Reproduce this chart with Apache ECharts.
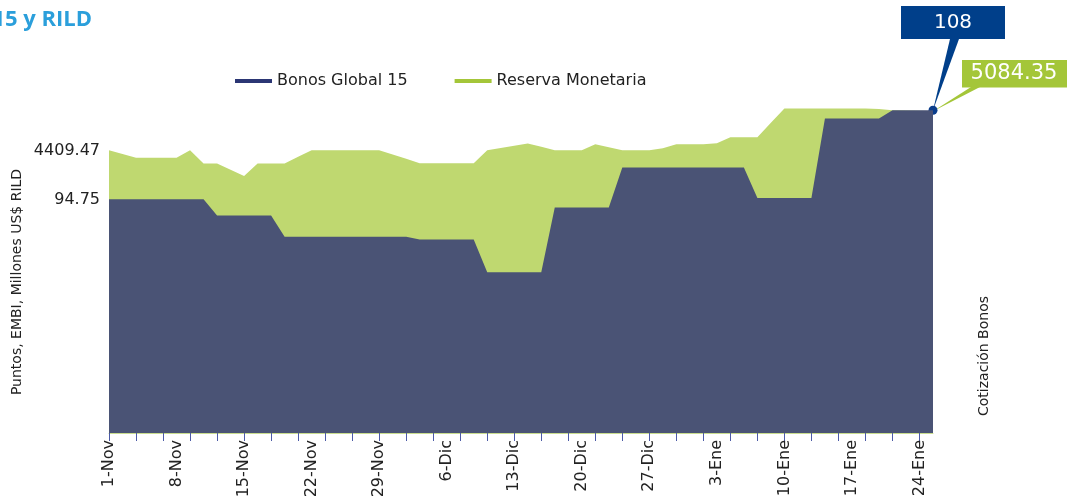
<!DOCTYPE html>
<html>
<head>
<meta charset="utf-8">
<style>
  html, body { margin: 0; padding: 0; background: #fff; }
  #chart { width: 1067px; height: 503px; }
</style>
<script src="https://cdn.jsdelivr.net/npm/echarts@6.0.0/dist/echarts.min.js"></script>
</head>
<body>
<div id="chart"></div>
<script>
// business days, 1-Nov to 27-Ene
const novDays = [1, 4, 5, 6, 7, 8, 11, 12, 13, 14, 15, 18, 19, 20, 21, 22, 25, 26, 27, 28, 29]
const dicDays = [2, 3, 4, 5, 6, 9, 10, 11, 12, 13, 16, 17, 18, 19, 20, 23, 24, 25, 26, 27, 30, 31]
const eneDays = [1, 2, 3, 6, 7, 8, 9, 10, 13, 14, 15, 16, 17, 20, 21, 22, 23, 24, 27]
const fechas = [
  ...novDays.map(d => d + '-Nov'),
  ...dicDays.map(d => d + '-Dic'),
  ...eneDays.map(d => d + '-Ene')
]

// Cotizacion Bonos Global 15 (right scale)
const bonosGlobal15 = [
  94.75, 94.75, 94.75, 94.75, 94.75, 94.75, 94.75, 94.75,
  92.35, 92.35, 92.35, 92.35, 92.35,
  89.17, 89.17, 89.17, 89.17, 89.17, 89.17, 89.17, 89.17, 89.17, 89.17,
  88.78, 88.78, 88.78, 88.78, 88.78,
  83.92, 83.92, 83.92, 83.92, 83.92,
  93.54, 93.54, 93.54, 93.54, 93.54,
  99.48, 99.48, 99.48, 99.48, 99.48, 99.48, 99.48, 99.48, 99.48, 99.48,
  94.96, 94.96, 94.96, 94.96, 94.96,
  106.76, 106.76, 106.76, 106.76, 106.76,
  108, 108, 108, 108
]

// Reserva Monetaria, millones US$ (left scale)
const reservaMonetaria = [
  4409.47, 4343, 4276, 4276, 4276, 4276, 4409, 4179, 4179, 4071,
  3963, 4179, 4179, 4179, 4294, 4409, 4409, 4409, 4409, 4409,
  4409, 4334, 4259, 4184, 4184, 4184, 4184, 4184, 4409, 4448,
  4487, 4526, 4468, 4409, 4409, 4409, 4514, 4461, 4409, 4409,
  4409, 4444, 4514, 4514, 4514, 4530, 4635, 4635, 4635, 4884,
  5133, 5133, 5133, 5133, 5133, 5133, 5133, 5125, 5104, 5098,
  5092, 5084.35
]

const font = '"DejaVu Sans", Verdana, sans-serif'
const colorBonos = '#2b3674'
const colorReserva = '#a4c639'

const chart = echarts.init(document.getElementById('chart'))

chart.setOption({
  animation: false,
  grid: { left: 109, right: 134, top: 47, bottom: 70 },
  legend: {
    data: [
      { name: 'Bonos Global 15', itemStyle: { color: colorBonos } },
      { name: 'Reserva Monetaria', itemStyle: { color: colorReserva } }
    ],
    left: 230,
    top: 68,
    icon: 'rect',
    itemWidth: 37,
    itemHeight: 4,
    itemGap: 47,
    textStyle: { fontFamily: font, fontSize: 16, color: '#222' }
  },
  xAxis: {
    type: 'category',
    data: fechas,
    boundaryGap: false,
    axisLine: { onZero: false, lineStyle: { color: '#c9dc8f', width: 1 } },
    axisTick: { interval: 1, length: 8, lineStyle: { color: '#4b5aa6', width: 1 } },
    axisLabel: { interval: 4, rotate: 90, margin: 7, fontFamily: font, fontSize: 16, color: '#222' },
    splitLine: { show: false }
  },
  yAxis: [
    { type: 'value', min: -500, max: 6200, show: false },
    { type: 'value', min: 60, max: 117.4, show: false }
  ],
  series: [
    {
      name: 'Reserva Monetaria',
      type: 'line',
      yAxisIndex: 0,
      data: reservaMonetaria,
      symbol: 'none',
      color: colorReserva,
      lineStyle: { width: 0 },
      areaStyle: { color: '#bfd870', opacity: 1, origin: 'start' }
    },
    {
      name: 'Bonos Global 15',
      type: 'line',
      yAxisIndex: 1,
      data: bonosGlobal15,
      symbol: 'none',
      color: colorBonos,
      lineStyle: { width: 0 },
      areaStyle: { color: '#4a5375', opacity: 1, origin: 'start' }
    }
  ]
})

// labels and callouts placed from the series scales
const last = fechas.length - 1
const res0 = chart.convertToPixel({ seriesIndex: 0 }, [0, reservaMonetaria[0]])
const bon0 = chart.convertToPixel({ seriesIndex: 1 }, [0, bonosGlobal15[0]])
const resN = chart.convertToPixel({ seriesIndex: 0 }, [last, reservaMonetaria[last]])
const bonN = chart.convertToPixel({ seriesIndex: 1 }, [last, bonosGlobal15[last]])

const leftLabel = (p, v) => ({
  type: 'text', x: p[0] - 9, y: p[1] + 1,
  style: { text: String(v), font: '16px ' + font, fill: '#222', align: 'right', verticalAlign: 'middle' }
})

chart.setOption({
  graphic: [
    {
      type: 'text', x: 92, y: 20,
      style: { text: '15 y RILD', font: 'bold 22px "Open Sans", sans-serif', fill: '#2b9fdb', align: 'right', verticalAlign: 'middle' }
    },
    {
      type: 'text', x: 17, y: 282, rotation: Math.PI / 2,
      style: { text: 'Puntos, EMBI, Millones US$ RILD', font: '14px ' + font, fill: '#222', align: 'center', verticalAlign: 'middle' }
    },
    {
      type: 'text', x: 984, y: 356, rotation: Math.PI / 2,
      style: { text: 'Cotización Bonos', font: '14px ' + font, fill: '#222', align: 'center', verticalAlign: 'middle' }
    },
    leftLabel(res0, reservaMonetaria[0]),
    leftLabel(bon0, bonosGlobal15[0]),
    // Reserva callout
    { type: 'polygon', shape: { points: [[971, 87], [980, 87], [resN[0], resN[1]]] }, style: { fill: colorReserva } },
    { type: 'rect', shape: { x: 962, y: 60, width: 105, height: 27.5 }, style: { fill: colorReserva } },
    {
      type: 'text', x: 1014, y: 74,
      style: { text: String(reservaMonetaria[last]), font: '21px ' + font, fill: '#fff', align: 'center', verticalAlign: 'middle' }
    },
    // Bonos callout
    { type: 'polygon', shape: { points: [[950, 39], [959, 39], [bonN[0], bonN[1]]] }, style: { fill: '#003f8a' } },
    { type: 'rect', shape: { x: 901, y: 6, width: 104, height: 33 }, style: { fill: '#003f8a' } },
    {
      type: 'text', x: 953, y: 23,
      style: { text: String(bonosGlobal15[last]), font: '20px ' + font, fill: '#fff', align: 'center', verticalAlign: 'middle' }
    },
    { type: 'circle', shape: { cx: bonN[0], cy: bonN[1], r: 4.5 }, style: { fill: '#0a3d8c' } }
  ]
})
</script>
</body>
</html>
